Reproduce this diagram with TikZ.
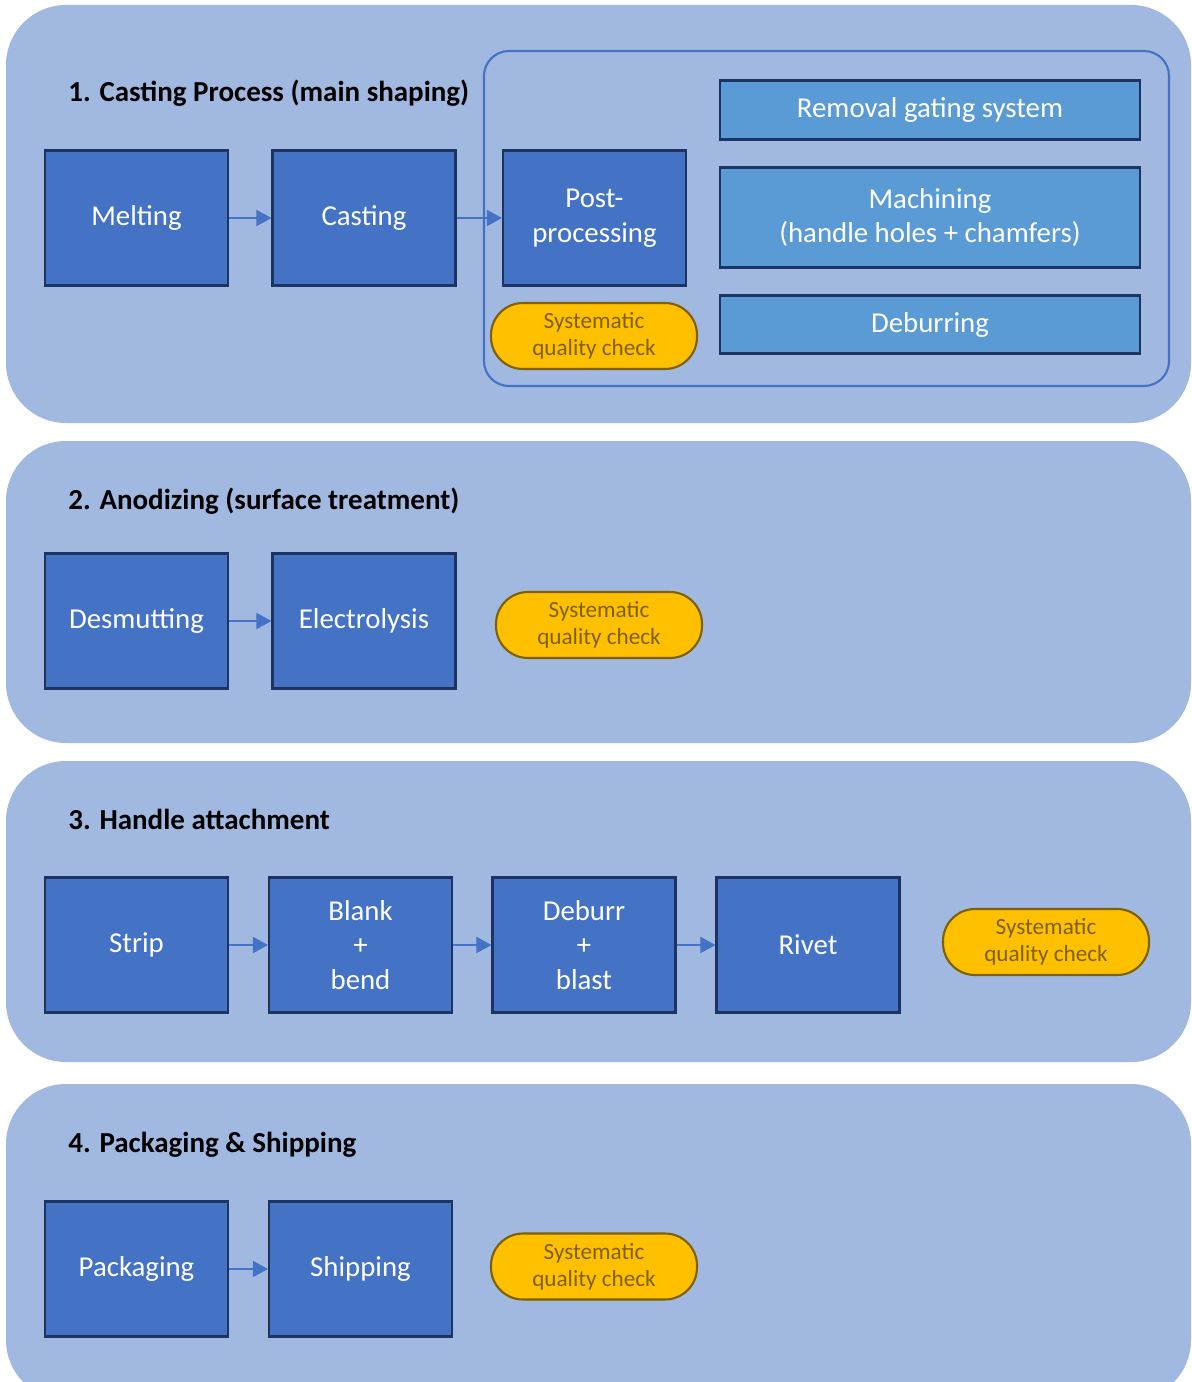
\documentclass[tikz,border=0pt]{standalone}
\usepackage{fontspec}
\setmainfont{Carlito}
\usetikzlibrary{arrows.meta}
\definecolor{panelfill}{HTML}{A1B8E0}
\definecolor{stepfill}{HTML}{4472C4}
\definecolor{subfill}{HTML}{5B9BD5}
\definecolor{stepline}{HTML}{1C3461}
\definecolor{flowline}{HTML}{4472C4}
\definecolor{qcfill}{HTML}{FFC000}
\definecolor{qcline}{HTML}{7F6000}
\tikzset{
  panel/.style={fill=panelfill, draw=none, rounded corners=1.2cm},
  title/.style={anchor=base west, inner sep=0pt, font=\bfseries\fontsize{16.5}{20}\selectfont, text=black},
  stepbox/.style={rectangle, draw=stepline, line width=1.2pt, fill=stepfill, text=white,
    minimum width=3.66cm, minimum height=2.7cm, inner sep=0pt, align=center,
    font=\fontsize{16.4}{19.8}\selectfont},
  subbox/.style={rectangle, draw=stepline, line width=1.2pt, fill=subfill, text=white,
    minimum width=8.4cm, inner sep=0pt, align=center,
    font=\fontsize{16.4}{19.6}\selectfont},
  qcbox/.style={rectangle, rounded corners=0.64cm, draw=qcline, line width=1.2pt, fill=qcfill,
    text=qcline, minimum width=4.12cm, minimum height=1.32cm, inner sep=0pt, align=center,
    font=\fontsize{13.2}{15.4}\selectfont},
  flow/.style={draw=flowline, line width=0.9pt, -{Triangle[length=0.3cm, width=0.32cm]}},
  frame/.style={draw=flowline, line width=1.2pt, rounded corners=0.5cm}
}
\begin{document}
\begin{tikzpicture}[x=0.02cm, y=-0.02cm]
  \useasboundingbox[fill=white] (0,0) rectangle (1192,1382);

  % four stage panels
  \begin{scope}
    \clip (0,0) rectangle (1192,1382);
    \path[panel] (6,5) rectangle (1191,423);
    \path[panel] (6,441) rectangle (1191,743);
    \path[panel] (6,761) rectangle (1191,1062);
    \path[panel] (6,1084) rectangle (1191,1400);
  \end{scope}

  % ---- 1. Casting process ----
  \node[title] (t1) at (68,102) {1. Casting Process (main shaping)};
  \draw[frame] (484,51) rectangle (1169,386);
  \node[stepbox] (melt) at (136.5,218) {Melting};
  \node[stepbox] (cast) at (364,218) {Casting};
  \node[stepbox] (post) at (594.5,218) {Post-\\processing};
  \node[subbox, minimum height=1.18cm] (gate) at (930,110) {Removal gating system};
  \node[subbox, minimum height=2.0cm] (mach) at (930,217.5) {Machining\\(handle holes + chamfers)};
  \node[subbox, minimum height=1.16cm] (debur) at (930,324.5) {Deburring};
  \node[qcbox] (qc1) at (594,336) {Systematic\\quality check};
  \draw[flow] (melt) -- (cast);
  \draw[flow] (cast) -- (post);

  % ---- 2. Anodizing ----
  \node[title] (t2) at (68,509) {2. Anodizing (surface treatment)};
  \node[stepbox] (desm) at (136.5,621) {Desmutting};
  \node[stepbox] (elec) at (364,621) {Electrolysis};
  \node[qcbox] (qc2) at (599,625) {Systematic\\quality check};
  \draw[flow] (desm) -- (elec);

  % ---- 3. Handle attachment ----
  \node[title] (t3) at (68,829) {3. Handle attachment};
  \node[stepbox] (strip) at (136.5,945) {Strip};
  \node[stepbox] (blank) at (360.5,945) {Blank\\+\\bend};
  \node[stepbox] (blast) at (584,945) {Deburr\\+\\blast};
  \node[stepbox] (rivet) at (808,945) {Rivet};
  \node[qcbox] (qc3) at (1046,942) {Systematic\\quality check};
  \draw[flow] (strip) -- (blank);
  \draw[flow] (blank) -- (blast);
  \draw[flow] (blast) -- (rivet);

  % ---- 4. Packaging & shipping ----
  \node[title] (t4) at (68,1152) {4. Packaging \& Shipping};
  \node[stepbox] (pack) at (136.5,1269) {Packaging};
  \node[stepbox] (ship) at (360.5,1269) {Shipping};
  \node[qcbox] (qc4) at (594,1266.5) {Systematic\\quality check};
  \draw[flow] (pack) -- (ship);
\end{tikzpicture}
\end{document}
